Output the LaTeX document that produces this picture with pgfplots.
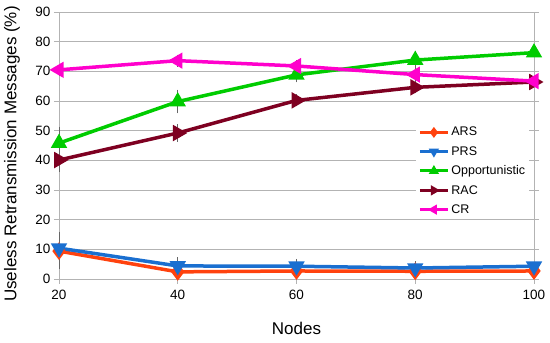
\documentclass[border=0pt]{standalone}
\usepackage{pgfplots}
\pgfplotsset{compat=1.18}
\usepackage{fontspec}
\setmainfont{Liberation Sans}
\definecolor{cars}{HTML}{FF420E}
\definecolor{cprs}{HTML}{1A6FD0}
\definecolor{copp}{HTML}{00CC00}
\definecolor{crac}{HTML}{7E0021}
\definecolor{ccr}{HTML}{FF00CC}
\definecolor{gridc}{HTML}{B3B3B3}
\begin{document}
\begin{tikzpicture}
\begin{axis}[
  scale only axis,
  width=475pt, height=267pt,
  xmin=20, xmax=100, ymin=0, ymax=90,
  xtick={20,40,60,80,100},
  ytick={0,10,...,90},
  ymajorgrids,
  grid style={gridc, line width=0.8pt},
  axis line style={gridc, line width=0.8pt},
  tick style={gridc, line width=0.8pt},
  tick align=outside,
  major tick length=5pt,
  xtick pos=bottom,
  ytick pos=both,
  /pgf/number format/assume math mode=true,
  ticklabel style={font=\fontsize{13.5}{15}\selectfont, black},
  xticklabel style={yshift=-3pt},
  xlabel={Nodes},
  ylabel={Useless Retransmission Messages (\%)},
  label style={font=\fontsize{17}{19}\selectfont},
  xlabel style={at={(axis description cs:0.5,-0.1835)}, anchor=center},
  ylabel style={at={(axis description cs:-0.099,0.468)}, anchor=center},
  legend style={at={(0.99,0.584)}, anchor=north east, draw=none, fill=white,
    font=\fontsize{12.5}{14}\selectfont, row sep=5pt, inner sep=2pt},
  legend cell align=left,
  legend image code/.code={%
    \draw[#1, line width=3pt, mark size=3pt, mark repeat=2, mark phase=2]
      plot coordinates {(0pt,0pt) (14pt,0pt) (28pt,0pt)};},
  every axis plot/.append style={line width=3.5pt, mark size=6pt,
    mark options={solid, line width=0.5pt},
    error bars/error bar style={gray!80!black, line width=0.6pt},
    error bars/error mark options={mark size=3pt, gray!80!black, line width=0.6pt}},
]
\addplot+[cars, mark=diamond*, mark options={fill=cars, draw=cars}, mark size=6pt,
  error bars/.cd, y dir=both, y explicit]
  coordinates {(20,9.4) +- (0,5) (40,2.4) +- (0,1.2) (60,2.7) +- (0,0.8) (80,2.6) +- (0,0.8) (100,2.7) +- (0,0.8)};
\addlegendentry{ARS}
\addplot+[cprs, mark=triangle*, mark options={rotate=180, fill=cprs, draw=cprs},
  error bars/.cd, y dir=both, y explicit]
  coordinates {(20,10.4) +- (0,4.5) (40,4.4) +- (0,2) (60,4.3) +- (0,1.5) (80,3.7) +- (0,1.2) (100,4.3) +- (0,1.5)};
\addlegendentry{PRS}
\addplot+[copp, mark=triangle*, mark options={fill=copp, draw=copp},
  error bars/.cd, y dir=both, y explicit]
  coordinates {(20,45.8) +- (0,4.5) (40,59.8) +- (0,3) (60,68.8) +- (0,1.5) (80,73.8) +- (0,2) (100,76.3) +- (0,1)};
\addlegendentry{Opportunistic}
\addplot+[crac, mark=triangle*, mark options={rotate=-90, fill=crac, draw=crac},
  error bars/.cd, y dir=both, y explicit]
  coordinates {(20,40.1) +- (0,3) (40,49.2) +- (0,2) (60,60.2) +- (0,1) (80,64.6) +- (0,1) (100,66.4) +- (0,1)};
\addlegendentry{RAC}
\addplot+[ccr, mark=triangle*, mark options={rotate=90, fill=ccr, draw=ccr},
  error bars/.cd, y dir=both, y explicit]
  coordinates {(20,70.5) +- (0,1) (40,73.6) +- (0,1) (60,71.8) +- (0,1) (80,68.9) +- (0,1) (100,66.7) +- (0,1)};
\addlegendentry{CR}
\end{axis}
\pgfresetboundingbox
\path ([xshift=-59pt,yshift=-64pt]current axis.south west) rectangle ([xshift=16pt,yshift=12pt]current axis.north east);
\end{tikzpicture}
\end{document}
